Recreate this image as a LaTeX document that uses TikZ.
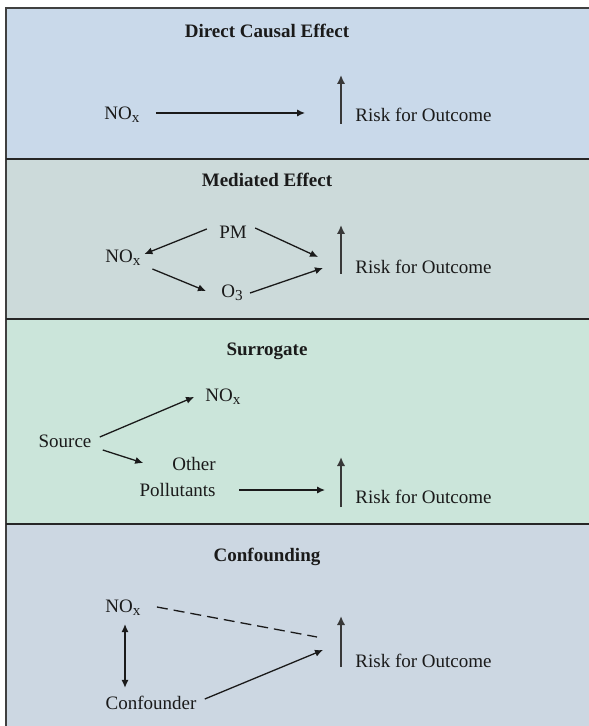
\documentclass[tikz,border=0pt]{standalone}
\usepackage{fontspec}
\setmainfont{Liberation Serif}
\usepackage{xcolor}
\usepackage{tikz}
\usetikzlibrary{arrows.meta,calc}
\definecolor{PanelDirect}{HTML}{C9D9EA}
\definecolor{PanelMediated}{HTML}{CCDADA}
\definecolor{PanelSurrogate}{HTML}{CBE5DA}
\definecolor{PanelConfound}{HTML}{CCD7E2}
\definecolor{InkDark}{HTML}{1A1A1A}
\newcommand{\lowsub}[1]{\raisebox{-0.32ex}{\fontsize{7.6}{8}\selectfont #1}}

\begin{document}
\begin{tikzpicture}[
  x=0.5pt, y=-0.5pt,
  lbl/.style={inner sep=0pt,text=InkDark,font=\fontsize{9.5}{11.4}\selectfont},
  title/.style={lbl,font=\fontsize{9.5}{11.4}\selectfont\bfseries},
  arrow/.style={-{Latex[length=4pt,width=3.6pt]},line width=0.65pt,draw=InkDark},
  twoway/.style={arrow,{Latex[length=4pt,width=3.6pt]}-{Latex[length=4pt,width=3.6pt]}},
  dashline/.style={line width=0.65pt,draw=InkDark,dash pattern=on 5.5pt off 3pt},
  rise/.style={-{Latex[length=4.5pt,width=4.2pt]},line width=1pt,draw=black!78},
  divider/.style={draw=black!85,line width=0.75pt}
]
  \useasboundingbox (0,0) rectangle (588,726);
  % panels
  \fill[PanelDirect] (6,8) rectangle (600,159);
  \fill[PanelMediated] (6,159) rectangle (600,319);
  \fill[PanelSurrogate] (6,319) rectangle (600,524);
  \fill[PanelConfound] (6,524) rectangle (600,740);
  \draw[draw=black!75,line width=1pt] (600,8) -- (6,8) -- (6,740);
  \draw[divider] (6,159) -- (600,159);
  \draw[divider] (6,319) -- (600,319);
  \draw[divider] (6,524) -- (600,524);

  % direct causal effect
  \node[title] (title1) at (267,31) {Direct Causal Effect};
  \node[lbl] (nox1) at (122,115) {NO\lowsub{x}};
  \node[lbl,anchor=west] (risk1) at (355,115) {Risk for Outcome};
  \draw[arrow] ($(nox1.east)+(16,-2)$) -- ($(risk1.west)+(-50,-2)$);
  \draw[rise] ($(risk1.west)+(-14,9)$) -- ++(0,-49);

  % mediated effect
  \node[title] (title2) at (267,180) {Mediated Effect};
  \node[lbl] (pm) at (233,232) {PM};
  \node[lbl] (nox2) at (123,258) {NO\lowsub{x}};
  \node[lbl] (o3) at (232,293) {O\lowsub{3}};
  \node[lbl,anchor=west] (risk2) at (355,267) {Risk for Outcome};
  \draw[arrow] ($(pm.west)+(-12,-3)$) -- ($(nox2.east)+(3.5,-4)$);
  \draw[arrow] ($(pm.east)+(8,-4)$) -- ($(risk2.west)+(-37,-10)$);
  \draw[arrow] ($(nox2.east)+(11.5,11)$) -- ($(o3.west)+(-15,-2)$);
  \draw[arrow] ($(o3.east)+(7,0)$) -- ($(risk2.west)+(-32,1)$);
  \draw[rise] ($(risk2.west)+(-14,7)$) -- ++(0,-49);

  % surrogate
  \node[title] (title3) at (267,351) {Surrogate};
  \node[lbl] (nox3) at (223,397) {NO\lowsub{x}};
  \node[lbl] (source) at (65,441) {Source};
  \node[lbl,align=right,anchor=east] (other) at (216,477) {Other\\[1.2pt]Pollutants};
  \node[lbl,anchor=west] (risk3) at (355,497) {Risk for Outcome};
  \draw[arrow] ($(source.east)+(8,-4)$) -- ($(nox3.west)+(-11,0)$);
  \draw[arrow] ($(source.east)+(11,9)$) -- ($(other.west)+(4,-14)$);
  \draw[arrow] ($(other.east)+(23,13)$) -- ($(risk3.west)+(-30,-7)$);
  \draw[rise] ($(risk3.west)+(-14,10)$) -- ++(0,-50);

  % confounding
  \node[title] (title4) at (267,557) {Confounding};
  \node[lbl] (nox4) at (123,608) {NO\lowsub{x}};
  \node[lbl] (conf) at (151,703) {Confounder};
  \node[lbl,anchor=west] (risk4) at (355,661) {Risk for Outcome};
  \draw[dashline] ($(nox4.east)+(16,-1)$) -- ($(risk4.west)+(-38,-24)$);
  \draw[twoway] ($(nox4.south)+(2,8)$) -- ($(conf.north)+(-26,-8)$);
  \draw[arrow] ($(conf.east)+(8,-4)$) -- ($(risk4.west)+(-32,-11)$);
  \draw[rise] ($(risk4.west)+(-14,6)$) -- ++(0,-51);
\end{tikzpicture}
\end{document}
